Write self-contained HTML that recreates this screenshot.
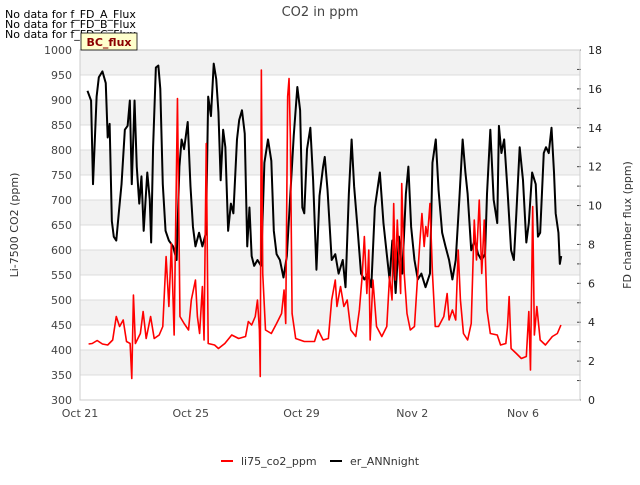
<!DOCTYPE html>
<html><head><meta charset="utf-8"><style>
body{margin:0;background:#fff;font-family:"Liberation Sans","DejaVu Sans",sans-serif}
svg text{font-family:"DejaVu Sans","Liberation Sans",sans-serif}
</style></head><body>
<svg id="chart" width="640" height="480" xmlns="http://www.w3.org/2000/svg">
<g id="bands"></g><g id="axes"></g><g id="series"></g>
<text x="320" y="16" font-size="13" fill="#444" text-anchor="middle">CO2 in ppm</text>
<text x="5" y="18" font-size="11" fill="#000">No data for f_FD_A_Flux</text>
<text x="5" y="28" font-size="11" fill="#000">No data for f_FD_B_Flux</text>
<text x="5" y="38" font-size="11" fill="#000">No data for f_FD_C_Flux</text>
<g><rect x="81" y="33" width="56" height="17" fill="#ffffcc" stroke="#000" stroke-width="0.8"/>
<text x="109" y="46" font-size="11" font-weight="bold" fill="#8b0000" text-anchor="middle">BC_flux</text></g>
<text transform="translate(18,225) rotate(-90)" font-size="11" fill="#333" text-anchor="middle">Li-7500 CO2 (ppm)</text>
<text transform="translate(631,225) rotate(-90)" font-size="11" fill="#333" text-anchor="middle">FD chamber flux (ppm)</text>
<g>
<line x1="221" y1="461" x2="233" y2="461" stroke="#f00" stroke-width="2"/><text x="241" y="465" font-size="11" fill="#333">li75_co2_ppm</text>
<line x1="330" y1="461" x2="342" y2="461" stroke="#000" stroke-width="2"/><text x="350" y="465" font-size="11" fill="#333">er_ANNnight</text>
</g>
</svg>
<script>
const xTickLabels=["Oct 21","Oct 25","Oct 29","Nov 2","Nov 6"];
const xTickDays=[0,4,8,12,16];
const leftTicks=[300,350,400,450,500,550,600,650,700,750,800,850,900,950,1000];
const rightTicks=[0,2,4,6,8,10,12,14,16,18];
const redDays=[0.31,0.44,0.62,0.81,1.0,1.18,1.31,1.43,1.56,1.68,1.81,1.87,1.93,2.0,2.18,2.28,2.39,2.55,2.68,2.86,2.99,3.11,3.21,3.3,3.4,3.52,3.61,3.76,3.92,4.02,4.17,4.24,4.32,4.42,4.48,4.56,4.63,4.86,5.0,5.23,5.48,5.73,5.98,6.08,6.2,6.33,6.41,6.48,6.51,6.55,6.6,6.7,6.91,7.1,7.28,7.37,7.43,7.5,7.55,7.6,7.66,7.79,8.1,8.47,8.6,8.78,8.97,9.09,9.22,9.28,9.41,9.53,9.65,9.78,9.96,10.09,10.19,10.27,10.36,10.43,10.48,10.58,10.71,10.9,11.08,11.18,11.27,11.33,11.39,11.46,11.58,11.62,11.71,11.81,11.93,12.08,12.2,12.28,12.35,12.43,12.49,12.55,12.64,12.73,12.83,12.95,13.14,13.26,13.33,13.45,13.57,13.66,13.74,13.85,14.0,14.13,14.24,14.32,14.42,14.51,14.6,14.7,14.82,15.07,15.19,15.38,15.44,15.5,15.57,15.76,15.94,16.12,16.21,16.27,16.35,16.41,16.5,16.62,16.81,17.06,17.24,17.37];
const redPpm=[412,413,419,412,410,420,467,447,460,417,413,343,510,413,433,477,423,467,423,430,447,587,487,613,430,903,467,453,440,500,540,467,433,527,420,813,413,410,403,413,430,423,427,457,450,467,500,440,347,960,553,440,433,453,473,520,453,907,943,820,473,423,417,417,440,420,423,500,540,487,527,487,500,440,427,480,547,627,513,600,420,540,447,427,447,547,500,693,540,660,513,733,553,473,440,447,553,620,673,607,647,627,693,553,447,447,467,513,460,480,460,600,500,433,420,453,660,580,700,553,660,480,433,430,410,413,447,507,403,393,383,387,477,360,687,430,487,420,410,427,433,450];
const blackDays=[0.27,0.4,0.47,0.6,0.68,0.81,0.93,1.0,1.07,1.15,1.22,1.31,1.4,1.5,1.62,1.72,1.8,1.87,1.97,2.05,2.14,2.22,2.3,2.43,2.52,2.57,2.64,2.74,2.83,2.9,2.99,3.09,3.21,3.36,3.49,3.59,3.67,3.76,3.89,3.99,4.08,4.17,4.3,4.42,4.55,4.63,4.73,4.83,4.92,5.0,5.08,5.17,5.25,5.35,5.45,5.54,5.67,5.75,5.85,5.95,6.04,6.12,6.2,6.29,6.41,6.54,6.66,6.79,6.91,7.0,7.1,7.22,7.35,7.47,7.57,7.72,7.85,7.95,8.03,8.1,8.2,8.32,8.42,8.54,8.65,8.78,8.84,8.94,9.09,9.22,9.34,9.49,9.59,9.71,9.81,9.9,10.02,10.15,10.27,10.4,10.52,10.65,10.83,10.96,11.08,11.18,11.28,11.4,11.52,11.64,11.77,11.86,11.96,12.08,12.2,12.33,12.48,12.64,12.73,12.85,12.95,13.08,13.2,13.33,13.45,13.57,13.7,13.82,13.92,14.0,14.13,14.25,14.38,14.5,14.63,14.7,14.82,14.94,15.07,15.13,15.22,15.32,15.44,15.57,15.67,15.76,15.88,16.0,16.12,16.21,16.33,16.46,16.54,16.62,16.75,16.83,16.93,17.03,17.12,17.18,17.28,17.33,17.38];
const blackFlux=[15.9,15.4,11.1,15.6,16.6,16.9,16.3,13.5,14.2,9.2,8.4,8.2,9.6,11.1,13.9,14.1,15.4,11.1,15.4,12.0,10.1,11.5,8.7,11.7,10.3,8.1,13.0,17.1,17.2,16.0,11.1,8.7,8.2,7.9,7.2,12.0,13.4,12.9,14.3,11.0,8.9,7.9,8.6,7.9,8.6,15.6,14.6,17.3,16.5,14.8,11.3,13.9,13.0,8.7,10.1,9.6,13.4,14.4,14.9,13.7,7.9,9.9,7.4,6.9,7.2,6.9,12.2,13.4,12.3,8.7,7.5,7.2,6.3,7.4,9.9,13.6,16.1,14.9,9.9,9.6,12.9,14.0,11.3,6.7,10.5,12.0,12.5,10.8,7.2,7.5,6.5,7.2,5.8,10.6,13.4,11.0,8.9,6.5,6.2,6.5,5.8,9.9,11.7,9.1,7.5,6.2,8.2,5.5,8.4,6.5,10.6,12.0,8.9,7.2,6.2,6.5,5.8,6.5,12.2,13.4,10.8,8.6,7.9,7.2,6.2,7.2,10.3,13.4,11.7,10.6,7.7,8.2,7.5,7.2,7.5,10.6,13.9,10.3,9.1,14.1,12.7,13.4,10.8,7.7,7.2,9.6,13.0,11.3,8.1,9.1,11.7,11.1,8.4,8.6,12.7,13.0,12.7,14.0,11.7,9.6,8.6,7.0,7.4];

const L=80,R=580,T=50,B=400,NS="http://www.w3.org/2000/svg";
const xs=d=>L+d*(523-80)/16;
const yl=v=>B-(v-300)*(B-T)/700;
const yr=v=>B-v*(B-T)/18;
function mk(tag,attrs,parent){const e=document.createElementNS(NS,tag);for(const k in attrs)e.setAttribute(k,attrs[k]);parent.appendChild(e);return e;}
const bands=document.getElementById('bands'),axes=document.getElementById('axes'),series=document.getElementById('series');
mk('rect',{x:L,y:T,width:R-L,height:B-T,fill:'#fff'},bands);
for(let v=350;v<1000;v+=100){
  const r=mk('rect',{x:L,y:yl(v+50),width:R-L,height:yl(v)-yl(v+50),fill:'#f2f2f2'},bands);
  
  
}
leftTicks.forEach(v=>{
  const g=mk('line',{x1:L,x2:R,y1:yl(v),y2:yl(v),stroke:'#dcdcdc','stroke-width':1},axes);
  
  
  const t=mk('text',{x:72,y:yl(v)+4,'font-size':11,fill:'#444','text-anchor':'end'},axes);t.textContent=v;
  
  
});
for(let v=0;v<=18;v++){
  mk('line',{x1:577,x2:581,y1:yr(v),y2:yr(v),stroke:'#444','stroke-width':1},axes);
}
rightTicks.forEach(v=>{
  const t=mk('text',{x:588,y:yr(v)+4,'font-size':11,fill:'#222'},axes);t.textContent=v;
  
  
});
xTickDays.forEach((d,i)=>{
  const t=mk('text',{x:xs(d),y:417,'font-size':11,fill:'#444','text-anchor':'middle'},axes);t.textContent=xTickLabels[i];
  
  
});
mk('rect',{x:L,y:T,width:R-L,height:B-T,fill:'none',stroke:'#ccc','stroke-width':1},axes);
const bl=mk('polyline',{points:blackDays.map((d,i)=>xs(d)+','+yr(blackFlux[i])).join(' '),fill:'none',stroke:'#000','stroke-width':2,'stroke-linejoin':'round'},series);


const rl=mk('polyline',{points:redDays.map((d,i)=>xs(d)+','+yl(redPpm[i])).join(' '),fill:'none',stroke:'#f00','stroke-width':1.6,'stroke-linejoin':'round'},series);


</script>
</body></html>
